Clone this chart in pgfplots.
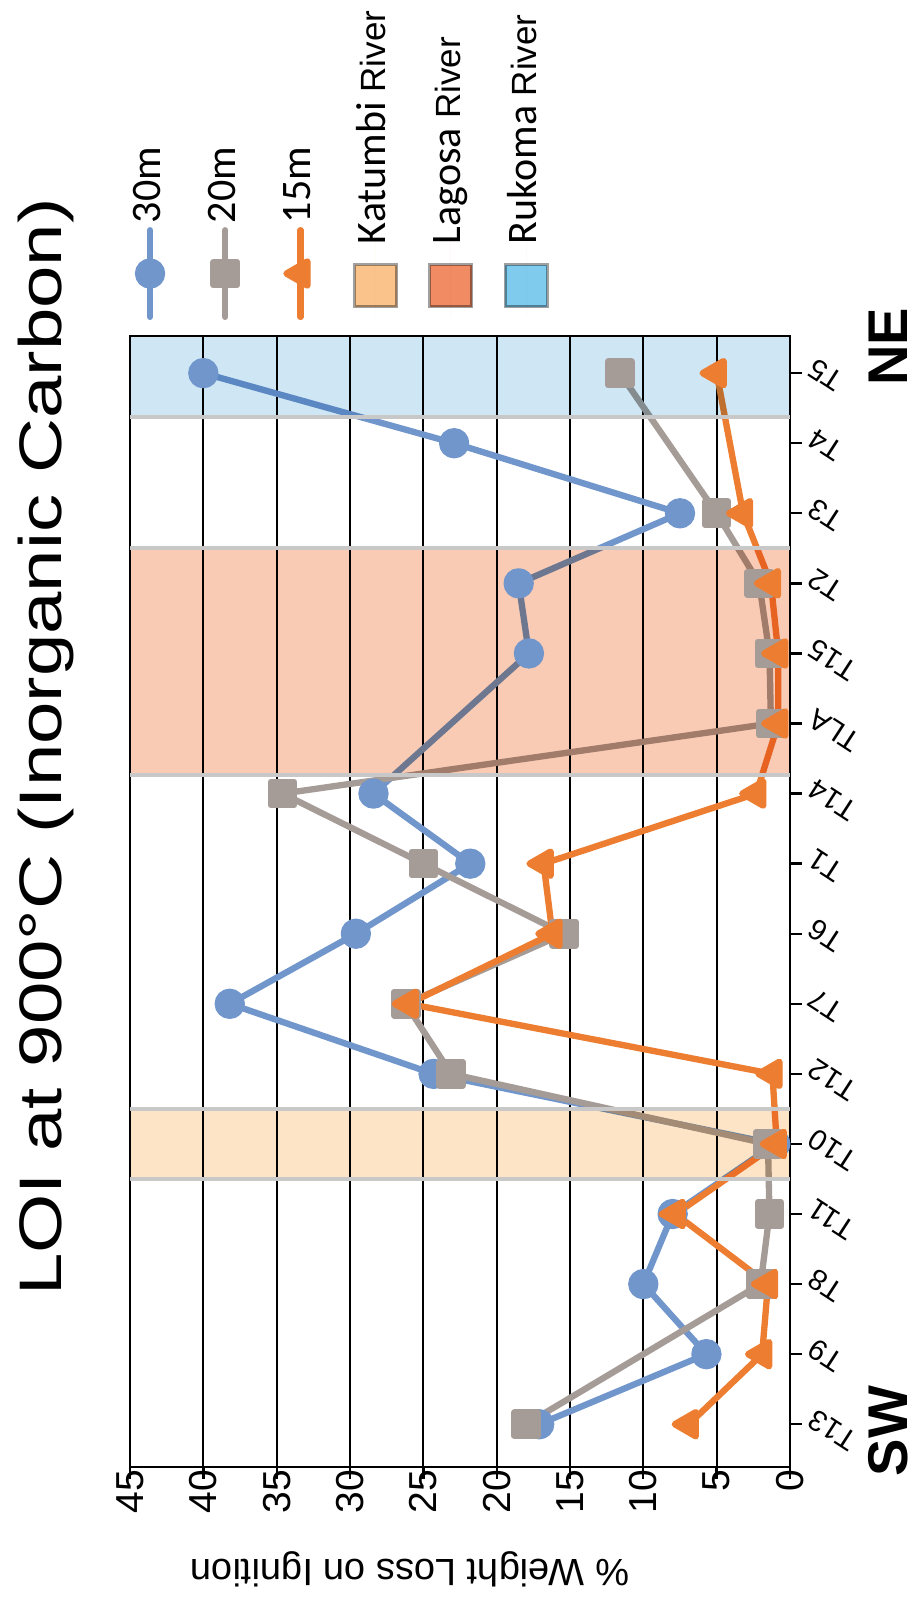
\documentclass[border=0pt]{standalone}
\usepackage{fontspec}
\setmainfont{Liberation Sans}
\newfontfamily\carlito{Carlito}
\newfontfamily\titlefont[FakeStretch=1.27]{Liberation Sans}
\usepackage{graphicx}
\usepackage{pgfplots}
\pgfplotsset{compat=1.18}

\definecolor{s30}{RGB}{113,150,204}
\definecolor{s20}{RGB}{165,156,151}
\definecolor{s15}{RGB}{237,125,49}
\definecolor{katband}{RGB}{253,228,198}
\definecolor{lagband}{RGB}{249,203,181}
\definecolor{rukband}{RGB}{207,230,244}
\definecolor{katleg}{RGB}{250,195,140}
\definecolor{lagleg}{RGB}{241,139,100}
\definecolor{rukleg}{RGB}{127,203,238}
\definecolor{edgegray}{RGB}{200,200,200}
\definecolor{legframe}{RGB}{160,160,160}

\newcommand{\rv}{{\normalfont\fontsize{10.5}{12}\selectfont River}}

\pgfplotsset{
  riverpatch/.style={
    legend image code/.code={
      \path (0pt,0pt) -- (26pt,0pt);
      \draw[draw=legframe, line width=0.9pt, fill=#1] (3pt,-6.3pt) rectangle (15.6pt,6.3pt);
    }
  }
}

\begin{document}
\rotatebox{90}{%
\begin{tikzpicture}
\useasboundingbox (0,0) rectangle (479.4pt,274.8pt);
\begin{axis}[
  at={(39.3pt,37.8pt)}, anchor=south west,
  scale only axis, width=339.3pt, height=198pt,
  xmin=-0.61, xmax=15.53, ymin=0, ymax=45,
  xtick={0,...,15},
  xticklabels={T13,T9,T8,T11,T10,T12,T7,T6,T1,T14,TLA,T15,T2,T3,T4,T5},
  ytick={0,5,...,45},
  tick pos=left, tick align=outside, major tick length=3.6pt,
  tick style={black, line width=0.7pt},
  axis line style={black, line width=0.8pt},
  ymajorgrids, grid style={black, line width=0.65pt},
  /pgf/number format/assume math mode=true,
  yticklabel style={font=\fontsize{11.7}{12}\selectfont, inner sep=1pt, xshift=3.9pt},
  xticklabel style={font=\fontsize{8.8}{10}\selectfont, rotate=57, anchor=east,
    inner sep=1pt, yshift=-3.5pt},
  title={LOI at 900°C (Inorganic Carbon)},
  title style={at={(axis description cs:0.6366,1.073)}, anchor=base, yshift=0pt,
    font=\titlefont\fontsize{18}{20}\selectfont, inner sep=0pt},
  ylabel={\% Weight Loss on Ignition},
  every axis y label/.style={at={(axis description cs:-0.0822,0.576)},
    anchor=base, rotate=90, font=\fontsize{11.4}{12}\selectfont, inner sep=0pt},
  legend image code/.code={
    \draw[mark repeat=2, mark phase=2, line cap=round]
      plot coordinates {(0pt,0pt) (13pt,0pt) (26pt,0pt)};
  },
  legend cell align=left,
  legend style={at={(axis description cs:1.0141,1.005)}, anchor=north west,
    draw=none, fill=none, inner sep=0pt, outer sep=0pt,
    row sep=8.56pt, column sep=1.2pt,
    font=\carlito\fontsize{12.6}{13}\selectfont,
    nodes={inner sep=0pt, text height=10pt, text depth=4pt}},
]

% 30 m transect
\addplot[s30, line width=1.9pt, line join=round, mark=*, mark size=3.6pt]
  coordinates {(0,17.1)(1,5.7)(2,10.0)(3,8.0)(4,1.0)(5,24.3)(6,38.2)(7,29.6)
               (8,21.8)(9,28.4)(11,17.8)(12,18.5)(13,7.5)(14,22.9)(15,40.0)};
\addlegendentry{30m}

% 20 m transect
\addplot[s20, line width=1.9pt, line join=round, mark=square*, mark size=3.5pt]
  coordinates {(0,18.0)(2,2.0)(3,1.4)(4,1.5)(5,23.1)(6,26.2)(7,15.4)(8,25.0)
               (9,34.6)(10,1.3)(11,1.4)(12,2.1)(13,5.0)(15,11.6)};
\addlegendentry{20m}

% 15 m transect
\addplot[s15, line width=1.9pt, line join=round, mark=triangle*, mark size=4.2pt]
  coordinates {(0,6.9)(1,1.9)(2,1.5)(3,7.8)(4,0.9)(5,1.2)(6,26.0)(7,16.2)
               (8,16.8)(9,2.3)(10,0.8)(11,0.8)(12,1.3)(13,3.2)(15,5.0)};
\addlegendentry{15m}

% river mouth zones
\addplot[draw=none, fill=katband, blend mode=multiply, riverpatch=katleg]
  coordinates {(3.5,45)(4.5,45)} \closedcycle;
\addlegendentry{\hspace*{-6.3pt}Katumbi \rv}
\addplot[draw=none, fill=lagband, blend mode=multiply, riverpatch=lagleg]
  coordinates {(9.27,45)(12.5,45)} \closedcycle;
\addlegendentry{\hspace*{-6.3pt}Lagosa \rv}
\addplot[draw=none, fill=rukband, blend mode=multiply, riverpatch=rukleg]
  coordinates {(14.38,45)(15.53,45)} \closedcycle;
\addlegendentry{\hspace*{-6.3pt}Rukoma \rv}

% zone edges
\addplot[edgegray, line width=1.2pt, forget plot] coordinates {(3.5,0)(3.5,45)};
\addplot[edgegray, line width=1.2pt, forget plot] coordinates {(4.5,0)(4.5,45)};
\addplot[edgegray, line width=1.2pt, forget plot] coordinates {(9.27,0)(9.27,45)};
\addplot[edgegray, line width=1.2pt, forget plot] coordinates {(12.5,0)(12.5,45)};
\addplot[edgegray, line width=1.2pt, forget plot] coordinates {(14.38,0)(14.38,45)};
\end{axis}

\node[anchor=base west, inner sep=0pt, font=\bfseries\fontsize{16.8}{18}\selectfont]
  at (36.3pt,2.4pt) {SW};
\node[anchor=base east, inner sep=0pt, font=\bfseries\fontsize{16.8}{18}\selectfont]
  at (387.3pt,2.4pt) {NE};
\end{tikzpicture}%
}
\end{document}
